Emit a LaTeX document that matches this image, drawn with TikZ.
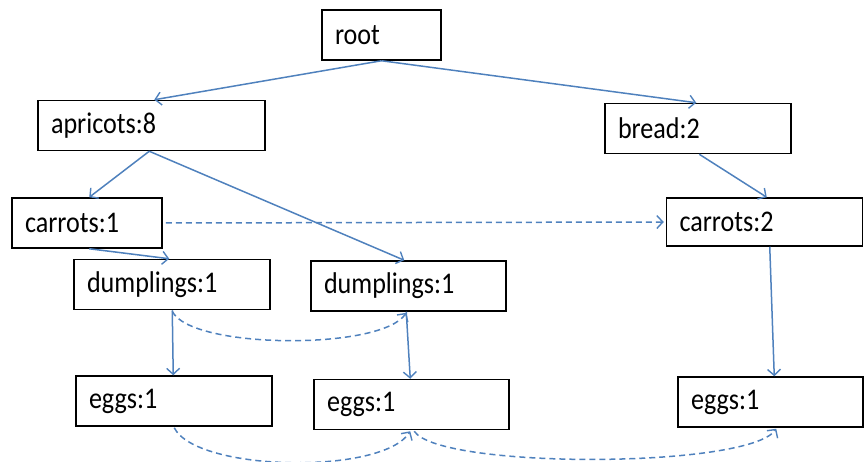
\documentclass[tikz,border=0pt]{standalone}
\usepackage{fontspec}
\setmainfont{Carlito}
\usetikzlibrary{arrows.meta,calc}
\definecolor{edgeblue}{HTML}{4F81BD}
\newcommand\sqz[1]{\scalebox{0.87}[1]{#1}}
\begin{document}
\begin{tikzpicture}[x=1pt,y=-1pt,
  box/.style={draw=black,line width=1.5pt,minimum height=50pt,inner xsep=13pt,inner ysep=0pt,align=left,
    font=\fontsize{30}{35}\selectfont},
  link/.style={draw=edgeblue,line width=1.5pt,-{Straight Barb[length=6pt,width=13pt,line width=1.4pt]}},
  dlink/.style={link,dash pattern=on 6pt off 4pt}]
\useasboundingbox (0,0) rectangle (864,461);
\node[box,text width=93pt] (root) at (381.5,35) {\sqz{root}};
\node[box,text width=201pt] (apr) at (151.5,125.5) {\sqz{apricots:8}};
\node[box,text width=160pt] (bread) at (698,128.5) {\sqz{bread:2}};
\node[box,text width=124pt] (ca1) at (87,223) {\sqz{carrots:1}};
\node[box,text width=170pt,minimum height=48pt] (ca2) at (764.5,222) {\sqz{carrots:2}};
\node[box,text width=170pt] (duL) at (172,284.5) {\sqz{dumplings:1}};
\node[box,text width=169pt] (duM) at (408.5,286) {\sqz{dumplings:1}};
\node[box,text width=170pt] (egL) at (174,401) {\sqz{eggs:1}};
\node[box,text width=169pt] (egM) at (411.5,404.5) {\sqz{eggs:1}};
\node[box,text width=159pt] (egR) at (770.5,402) {\sqz{eggs:1}};
% tree edges
\draw[link] (root.south) -- ($(apr.north west)+(117,0)$);
\draw[link] (root.south) -- ($(bread.north west)+(92,0)$);
\draw[link] ($(apr.south west)+(112,0)$) -- ($(ca1.north west)+(78,0)$);
\draw[link] ($(apr.south west)+(112,0)$) -- ($(duM.north west)+(94,0)$);
\draw[link] ($(ca1.south west)+(78,0)$) -- ($(duL.north west)+(96,0)$);
\draw[link] ($(bread.south west)+(95,0)$) -- ($(ca2.north west)+(101,0)$);
\draw[link] ($(ca2.south west)+(104,0)$) -- ($(egR.north west)+(97,0)$);
\draw[link] ($(duL.south west)+(99,0)$) -- ($(egL.north west)+(98,0)$);
\draw[link] ($(duM.south west)+(96,0)$) -- ($(egM.north west)+(97,0)$);
% node links
\draw[dlink,shorten <=3pt,shorten >=2pt] (ca1.east) -- (ca2.west);
\draw[dlink] ($(duL.south west)+(99,1)$) .. controls +(18,38) and +(-25,38) .. ($(duM.south west)+(96,1)$);
\draw[dlink] ($(egL.south west)+(99,1)$) .. controls +(22,44) and +(-28,44) .. ($(egM.south west)+(97,1)$);
\draw[dlink] ($(egM.south west)+(101,1)$) .. controls +(25,38) and +(-28,40) .. ($(egR.south west)+(99,1)$);
\end{tikzpicture}
\end{document}
